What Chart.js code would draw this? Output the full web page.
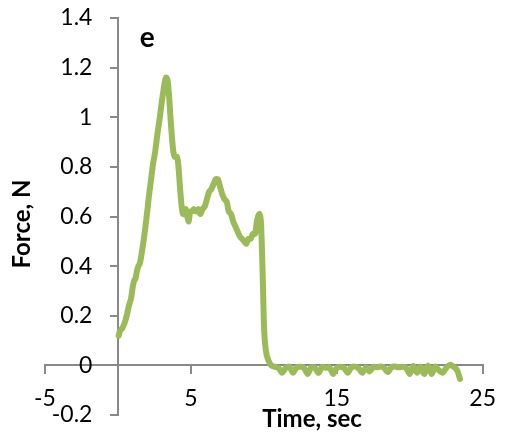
<!DOCTYPE html>
<html>
<head>
<meta charset="utf-8">
<script src="https://cdn.jsdelivr.net/npm/chart.js@4.4.1/dist/chart.umd.min.js"></script>
<style>
html,body{margin:0;padding:0;background:#fff;}
#wrap{width:507px;height:444px;}
</style>
</head>
<body>
<div id="wrap"><canvas id="c" width="507" height="444"></canvas></div>
<script>
// ---- data ----
const timeSec = [
 0.05,0.15,0.3,0.45,0.6,0.75,0.9,1.0,1.1,1.2,1.3,1.4,1.5,1.65,1.8,1.95,2.1,2.25,2.4,2.55,2.7,2.85,3.0,3.1,3.2,3.3,3.4,3.5,3.6,3.7,3.8,3.9,4.05,4.15,4.25,4.35,4.45,4.55,4.65,4.75,4.85,4.95,5.05,5.2,5.35,5.5,5.65,5.8,5.95,6.1,6.25,6.4,6.55,6.7,6.85,7.0,7.15,7.3,7.45,7.6,7.75,7.9,8.05,8.2,8.35,8.5,8.65,8.8,8.95,9.1,9.25,9.4,9.5,9.6,9.7,9.8,9.88,9.95,10.0,10.08,10.2,10.35,10.5,10.7,
 11.0,11.25,11.5,11.75,12.0,12.25,12.5,12.75,13.0,13.25,13.5,13.75,14.0,14.25,14.5,14.75,15.0,15.25,15.5,15.75,16.0,16.25,16.5,16.75,17.0,17.25,17.5,17.75,18.0,18.25,18.5,18.75,19.0,19.25,19.5,19.75,20.0,20.25,20.5,20.75,21.0,21.25,21.5,21.75,22.0,22.25,22.5,22.75,23.0,23.25,23.45
];
const forceN = [
 0.12,0.14,0.15,0.17,0.20,0.24,0.27,0.31,0.34,0.35,0.38,0.40,0.41,0.46,0.52,0.59,0.67,0.74,0.81,0.86,0.93,0.99,1.06,1.10,1.14,1.16,1.15,1.09,1.00,0.92,0.86,0.84,0.84,0.80,0.72,0.65,0.61,0.61,0.63,0.60,0.58,0.62,0.62,0.63,0.62,0.63,0.61,0.63,0.64,0.67,0.70,0.71,0.73,0.75,0.75,0.72,0.69,0.67,0.66,0.62,0.61,0.58,0.56,0.54,0.52,0.51,0.50,0.49,0.51,0.51,0.53,0.53,0.57,0.60,0.61,0.58,0.45,0.30,0.18,0.09,0.04,0.015,0.0,-0.005,
 -0.01,-0.03,-0.01,-0.005,-0.03,-0.008,-0.006,-0.01,-0.035,-0.008,-0.01,-0.03,-0.006,-0.01,-0.008,-0.035,-0.01,-0.006,-0.01,-0.03,-0.008,-0.005,-0.012,-0.03,-0.008,-0.025,-0.006,-0.008,-0.005,-0.01,-0.028,-0.007,-0.005,-0.008,-0.006,-0.01,-0.035,-0.002,-0.03,-0.005,-0.035,0.0,-0.035,-0.005,-0.02,-0.03,-0.01,0.002,-0.005,-0.02,-0.055
];
const xRange = [-5, 25];
const xStep = 10;
const yRange = [-0.2, 1.4];
const yStep = 0.2;
const xTitle = 'Time, sec';
const yTitle = 'Force, N';
const panelLabel = 'e';

const points = timeSec.map((t, i) => ({x: t, y: forceN[i]}));

const axisGray = '#898989';
const textFont = 'Lato, "Open Sans", sans-serif';
const fmt = v => String(Math.round(v * 10) / 10);

const annot = {
  id: 'annot',
  afterDraw(chart) {
    const ctx = chart.ctx;
    const xs = chart.scales.x, ys = chart.scales.y;
    ctx.save();
    ctx.fillStyle = '#000';
    ctx.textAlign = 'center';
    ctx.textBaseline = 'middle';
    ctx.font = 'bold 28px ' + textFont;
    ctx.fillText(panelLabel, xs.getPixelForValue(2.0), ys.getPixelForValue(1.32));
    ctx.font = 'bold 24px ' + textFont;
    ctx.fillText(xTitle, 312, 419);
    ctx.translate(22, 224);
    ctx.rotate(-Math.PI / 2);
    ctx.fillText(yTitle, 0, 0);
    ctx.restore();
  }
};

new Chart(document.getElementById('c'), {
  type: 'scatter',
  data: {
    datasets: [{
      data: points,
      showLine: true,
      borderColor: '#9BBB59',
      backgroundColor: '#9BBB59',
      borderWidth: 6,
      pointRadius: 0,
      tension: 0.25,
      borderJoinStyle: 'round',
      borderCapStyle: 'round'
    }]
  },
  options: {
    responsive: false,
    animation: false,
    layout: {padding: {left: 45, right: 18, top: 18, bottom: 29}},
    plugins: {legend: {display: false}, tooltip: {enabled: false}},
    scales: {
      x: {
        type: 'linear',
        position: {y: 0},
        min: xRange[0], max: xRange[1],
        ticks: {stepSize: xStep, color: '#000', font: {family: textFont, size: 23}, padding: 11, maxRotation: 0},
        grid: {drawOnChartArea: false, drawTicks: true, tickLength: 8, color: axisGray, lineWidth: 2},
        border: {display: true, color: axisGray, width: 2}
      },
      y: {
        type: 'linear',
        position: {x: 0},
        min: yRange[0], max: yRange[1],
        ticks: {stepSize: yStep, display: false},
        grid: {drawOnChartArea: false, drawTicks: true, tickLength: 7, color: axisGray, lineWidth: 2},
        border: {display: true, color: axisGray, width: 2}
      },
      yLabels: {
        type: 'linear',
        position: {x: -1.75},
        min: yRange[0], max: yRange[1],
        ticks: {stepSize: yStep, color: '#000', font: {family: textFont, size: 23}, padding: 0, callback: fmt},
        grid: {display: false, drawTicks: false, tickLength: 0},
        border: {display: false}
      }
    }
  },
  plugins: [annot]
});
</script>
</body>
</html>
